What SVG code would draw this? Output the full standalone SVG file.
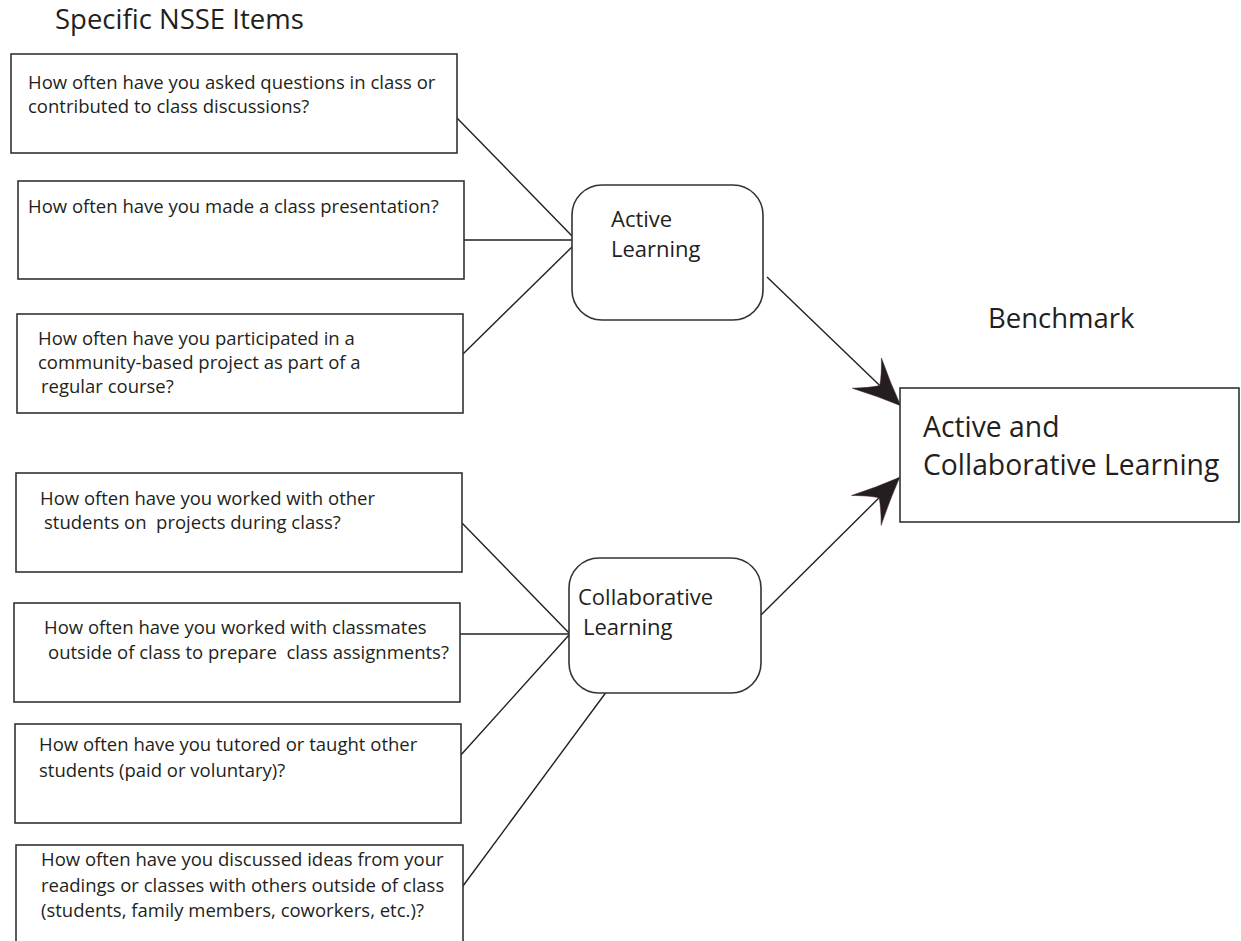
<svg xmlns="http://www.w3.org/2000/svg" width="1241" height="941" viewBox="0 0 1241 941">
<style>
.bg{fill:#fff}
.box{fill:#fff;stroke:#333;stroke-width:1.6}
.rbox{fill:#fff;stroke:#333;stroke-width:1.6}
.t{font-family:"Open Sans","Noto Sans","Liberation Sans",sans-serif;font-size:18.5px;fill:#231f20}
.n{font-family:"Open Sans","Noto Sans","Liberation Sans",sans-serif;font-size:22px;fill:#231f20}
.h{font-family:"Open Sans","Noto Sans","Liberation Sans",sans-serif;font-size:27.5px;fill:#231f20}
.hb{font-family:"Open Sans","Noto Sans","Liberation Sans",sans-serif;font-size:28.3px;fill:#231f20}
.c{stroke:#231f20;stroke-width:1.4;fill:none}
</style>
<defs>
<marker id="barb" viewBox="-50 -26 54 52" markerWidth="54" markerHeight="52" refX="0" refY="0" markerUnits="userSpaceOnUse" orient="auto">
<path d="M1,0 Q-22,-9 -46,-21 Q-34,-9 -28,0 Q-34,9 -46,21 Q-22,9 1,0 Z" fill="#231f20" stroke="#4a1c1c" stroke-width="0.5"/>
</marker>
</defs>
<rect class="bg" x="0" y="0" width="1241" height="941"/>
<text class="h" x="55" y="29">Specific NSSE Items</text>
<text class="h" x="988" y="328">Benchmark</text>

<g id="connectors">
<line class="c" x1="457" y1="118" x2="573" y2="237"/>
<line class="c" x1="464" y1="240" x2="573" y2="240"/>
<line class="c" x1="463" y1="354" x2="573" y2="246"/>
<line class="c" x1="462" y1="523" x2="569" y2="633"/>
<line class="c" x1="455" y1="634" x2="569" y2="634"/>
<line class="c" x1="460" y1="756" x2="569" y2="635"/>
<line class="c" x1="460" y1="890" x2="607" y2="691"/>
<line class="c" x1="767" y1="277" x2="900" y2="405" marker-end="url(#barb)"/>
<line class="c" x1="761" y1="615" x2="899" y2="478" marker-end="url(#barb)"/>
</g>

<g id="item1">
<rect class="box" x="11" y="54" width="446" height="99"/>
<text class="t" x="28" y="89">How often have you asked questions in class or</text>
<text class="t" x="28" y="113">contributed to class discussions?</text>
</g>
<g id="item2">
<rect class="box" x="18" y="181" width="446" height="98"/>
<text class="t" x="28" y="213">How often have you made a class presentation?</text>
</g>
<g id="item3">
<rect class="box" x="17" y="314" width="446" height="99"/>
<text class="t" x="38" y="345">How often have you participated in a</text>
<text class="t" x="38" y="369">community-based project as part of a</text>
<text class="t" x="41" y="393">regular course?</text>
</g>
<g id="item4">
<rect class="box" x="16" y="473" width="446" height="99"/>
<text class="t" x="40" y="505">How often have you worked with other</text>
<text class="t" x="44" y="529" xml:space="preserve">students on  projects during class?</text>
</g>
<g id="item5">
<rect class="box" x="14" y="603" width="446" height="99"/>
<text class="t" x="44" y="634">How often have you worked with classmates</text>
<text class="t" x="48" y="659" xml:space="preserve">outside of class to prepare  class assignments?</text>
</g>
<g id="item6">
<rect class="box" x="15" y="724" width="446" height="99"/>
<text class="t" x="39" y="751">How often have you tutored or taught other</text>
<text class="t" x="39" y="777">students (paid or voluntary)?</text>
</g>
<g id="item7">
<rect class="box" x="16" y="845" width="447" height="120"/>
<text class="t" x="41" y="866">How often have you discussed ideas from your</text>
<text class="t" x="41" y="892">readings or classes with others outside of class</text>
<text class="t" x="41" y="917">(students, family members, coworkers, etc.)?</text>
</g>

<g id="active-learning">
<rect class="rbox" x="572" y="185" width="191" height="135" rx="30" ry="30"/>
<text class="n" x="611" y="227">Active</text>
<text class="n" x="611" y="257">Learning</text>
</g>
<g id="collaborative-learning">
<rect class="rbox" x="569" y="558" width="192" height="135" rx="30" ry="30"/>
<text class="n" x="578" y="605">Collaborative</text>
<text class="n" x="583" y="635">Learning</text>
</g>
<g id="benchmark">
<rect class="box" x="900" y="388" width="339" height="134"/>
<text class="hb" x="923" y="437">Active and</text>
<text class="hb" x="923" y="475">Collaborative Learning</text>
</g>
</svg>
